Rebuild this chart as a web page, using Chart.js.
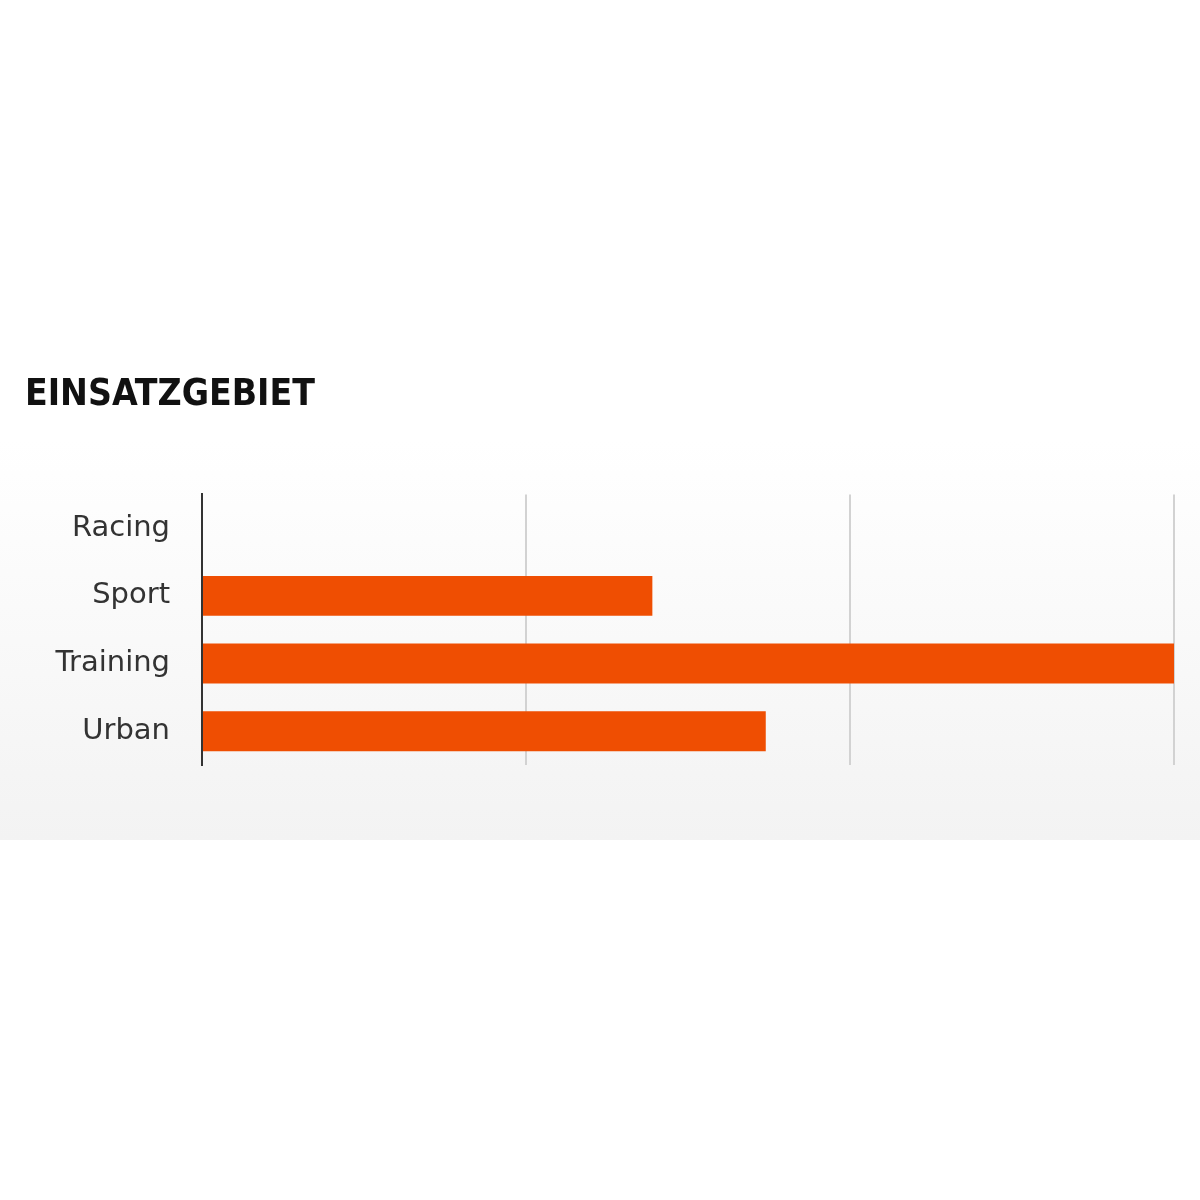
<!DOCTYPE html>
<html>
<head>
<meta charset="utf-8">
<script src="https://cdn.jsdelivr.net/npm/chart.js@4.4.1/dist/chart.umd.min.js"></script>
<style>
    html, body { margin: 0; padding: 0; background: #fff; }
    #wrap { position: relative; width: 1200px; height: 1200px; }
    #band {
        position: absolute; left: 0; top: 440px; width: 1200px; height: 400px;
        background: linear-gradient(#ffffff, #f3f3f3);
    }
    #chartBox { position: absolute; left: 0; top: 0; width: 1200px; height: 1200px; }
</style>
</head>
<body>
<div id="wrap">
    <div id="band"></div>
    <div id="chartBox"><canvas id="usageChart"></canvas></div>
</div>
<script>
// Daten
const categories = ['Racing', 'Sport', 'Training', 'Urban'];
const usageValues = [0, 1.39, 3, 1.74];
const axisMin = 0;
const axisMax = 3;
const axisStep = 1;
const chartTitle = 'EINSATZGEBIET';

const barColor = '#ef4e02';

function initUsageChart() {
    const ctx = document.getElementById('usageChart');
    if (!ctx) return;

    new Chart(ctx.getContext('2d'), {
        type: 'bar',
        data: {
            labels: categories,
            datasets: [{
                data: usageValues,
                backgroundColor: barColor,
                borderWidth: 0,
                categoryPercentage: 1,
                barPercentage: 0.59
            }]
        },
        options: {
            indexAxis: 'y',
            responsive: true,
            maintainAspectRatio: false,
            animation: false,
            layout: {
                padding: { left: 25, right: 26, top: 0, bottom: 435 }
            },
            plugins: {
                legend: { display: false },
                tooltip: { enabled: false },
                title: {
                    display: true,
                    text: chartTitle,
                    align: 'start',
                    color: '#111',
                    font: { family: 'DejaVu Sans Condensed', size: 37, weight: 'bold', lineHeight: 1.2 },
                    padding: { top: 373, bottom: 77 }
                }
            },
            scales: {
                x: {
                    min: axisMin,
                    max: axisMax,
                    ticks: { display: false, stepSize: axisStep },
                    grid: { color: '#d2d2d2', lineWidth: 2, drawTicks: false },
                    border: { display: false }
                },
                y: {
                    grid: { display: false, drawTicks: false },
                    border: { display: true, color: '#333', width: 2 },
                    ticks: {
                        color: '#333',
                        padding: 32,
                        font: { family: 'DejaVu Sans', size: 29 }
                    },
                    afterFit: function (scale) {
                        scale.width = 177;
                    }
                }
            }
        }
    });
}

document.addEventListener('DOMContentLoaded', initUsageChart);
</script>
</body>
</html>
